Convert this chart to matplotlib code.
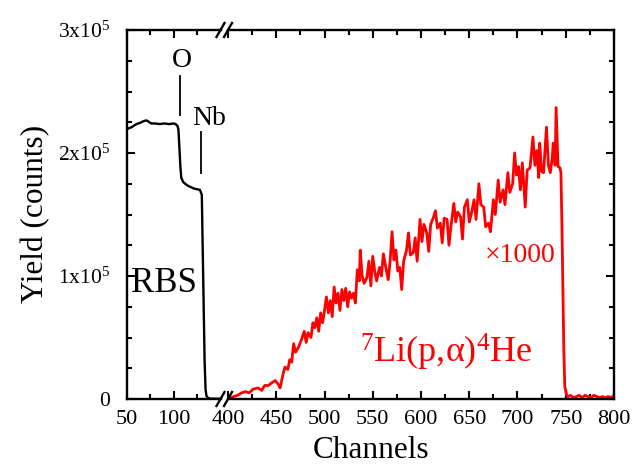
import matplotlib
matplotlib.use('Agg')
import matplotlib.pyplot as plt
from matplotlib.lines import Line2D
import numpy as np

plt.rcParams['font.family'] = ['Liberation Serif', 'DejaVu Serif']
plt.rcParams['mathtext.fontset'] = 'custom'
plt.rcParams['mathtext.rm'] = 'Liberation Serif'
plt.rcParams['mathtext.it'] = 'Liberation Serif:italic'
plt.rcParams['mathtext.default'] = 'regular'

# RBS spectrum (black), channel / counts
rbs_ch = [50, 55, 60, 64, 68, 71, 74, 76, 80, 85, 90, 95, 100, 102, 104, 105, 106, 107, 108,
          110, 113, 116, 119, 122, 125, 128, 130, 131, 132, 133, 134, 135, 137, 140, 145, 150]
rbs_counts = [219500, 221000, 223500, 224500, 226000, 226500, 225000, 224000, 224000, 223500,
              224000, 223500, 224000, 223500, 222000, 219000, 205000, 190000, 180000,
              176500, 174500, 173000, 172000, 171000, 170500, 170000, 166000, 121000, 76000,
              31000, 8000, 2500, 500, 300, 200, 200]

# 7Li(p,a)4He spectrum (red), channel / counts, drawn x1000
nra_ch = [400, 403, 406, 410, 414, 418, 422, 426, 431, 435, 438, 442, 445, 449, 452, 454, 457, 459,
          462, 464, 466, 468, 470, 473, 476, 479, 481, 483, 486, 488, 490, 492, 494, 496, 498,
          500, 502, 504, 506, 508, 510, 512, 514, 516, 518, 520, 522, 524, 526, 528, 530, 532,
          534, 536, 537, 539, 541, 544, 546, 548, 550, 552, 554, 557, 559, 561, 564, 566, 568,
          570, 572, 574, 576, 578, 580, 582, 585, 587, 589, 592, 594, 596, 599, 601, 603, 606,
          608, 610, 613, 615, 617, 620, 622, 624, 627, 629, 631, 634, 636, 638, 641, 643, 645,
          648, 650, 652, 655, 657, 660, 662, 665, 667, 670, 672, 675, 677, 680, 682, 685, 687,
          690, 692, 695, 697, 699, 701, 703, 705, 708, 710, 713, 716, 718, 720, 722, 723, 725,
          727, 730, 732, 734, 736, 737, 739, 740, 742, 744, 745, 746, 747, 748, 749, 751, 753,
          755, 758, 761, 764, 767, 770, 773, 776, 779, 782, 785, 788, 791, 794, 797, 800]
nra_counts = [0, 1, 2, 3, 5, 6, 5, 8, 9, 7, 11, 11, 13, 15, 12, 9, 20, 26,
              24, 32, 30, 45, 38, 42, 48, 55, 46, 54, 50, 62, 58, 66, 55, 70, 62,
              72, 83, 70, 80, 67, 91, 78, 86, 72, 89, 80, 90, 75, 87, 82, 86, 78,
              105, 96, 121, 100, 94, 99, 112, 92, 116, 104, 96, 107, 100, 118, 105, 97, 112,
              136, 113, 121, 104, 107, 89, 112, 121, 135, 117, 119, 131, 112, 146, 128, 142, 135,
              120, 142, 148, 153, 139, 143, 127, 147, 146, 125, 140, 159, 144, 152, 148, 130, 156,
              162, 144, 150, 162, 146, 175, 158, 156, 140, 143, 136, 162, 150, 178, 160, 170, 158,
              184, 168, 175, 200, 182, 189, 170, 192, 156, 186, 188, 213, 190, 202, 180, 208, 185,
              184, 221, 190, 184, 196, 208, 190, 237, 189, 188, 184, 143, 90, 40, 10, 3, 2,
              3, 1, 2, 3, 1, 3, 2, 1, 3, 2, 1, 2, 1, 2, 1, 3]
nra_scale = 1000

y_ticks = [0, 1e5, 2e5, 3e5]
y_ticklabels = ['0', '1x10$^5$', '2x10$^5$', '3x10$^5$']

W, H = 632, 465
fig = plt.figure(figsize=(W / 100, H / 100), dpi=100)

def fx(px):
    return px / W

def fy(py):
    return 1 - py / H

top_px, bot_px = 30, 399
ax1 = fig.add_axes([fx(127), fy(bot_px), fx(220.5) - fx(127), fy(top_px) - fy(bot_px)])
ax2 = fig.add_axes([fx(228), fy(bot_px), fx(614) - fx(228), fy(top_px) - fy(bot_px)], sharey=ax1)

ax1.plot(rbs_ch, rbs_counts, color='black', lw=1.7)
ax2.plot(nra_ch, np.array(nra_counts) * nra_scale, color='red', lw=2.0)

ax1.set_xlim(50, 150)
ax2.set_xlim(400, 800)
ax1.set_ylim(0, 3e5)

for ax in (ax1, ax2):
    for s in ax.spines.values():
        s.set_linewidth(1.7)
    ax.tick_params(which='both', direction='in', top=True, width=1.5, labelsize=16, pad=8)
    ax.tick_params(which='major', length=6)
    ax.tick_params(which='minor', length=3.5)

ax1.spines['right'].set_visible(False)
ax2.spines['left'].set_visible(False)

ax1.set_xticks([50, 100])
ax1.set_xticks([75, 125], minor=True)
ax2.set_xticks(np.arange(400, 801, 50))
ax2.set_xticks(np.arange(425, 800, 50), minor=True)

ax1.set_yticks(y_ticks)
ax1.set_yticklabels(y_ticklabels)
ax1.set_yticks(np.arange(0, 3e5, 25000), minor=True)
ax1.tick_params(axis='y', which='both', right=False, pad=12, labelsize=15.5)
ax2.tick_params(axis='y', which='both', left=False, right=True, labelleft=False)

# break marks on the x axis
for ypx in (top_px, bot_px):
    for xc in (220.5, 228):
        fig.add_artist(Line2D([fx(xc - 4), fx(xc + 4)], [fy(ypx + 7), fy(ypx - 7)],
                              color='black', lw=1.7))

# labels
ax1.text(108.9, 2.75e5, 'O', fontsize=20, ha='center', va='center')
ax1.plot([106.7, 106.7], [2.31e5, 2.63e5], color='black', lw=1.3)
ax1.text(138, 2.28e5, 'Nb', fontsize=20, ha='center', va='center')
ax1.plot([129.2, 129.2], [1.84e5, 2.17e5], color='black', lw=1.3)
ax1.text(54, 0.94e5, 'RBS', fontsize=25, ha='left', va='center')

ax2.text(703, 1.17e5, '×1000', fontsize=20, color='red', ha='center', va='center')
ax2.text(626, 0.38e5, r'$^{7}$Li(p,α)$^{4}$He', fontsize=26, color='red', ha='center', va='center')

fig.text(fx(371), fy(450), 'Channels', fontsize=22.5, ha='center', va='center')
fig.text(fx(36), fy(214), 'Yield (counts)', fontsize=22.5, ha='center', va='center', rotation=90)

fig.savefig('out.png', dpi=100)
